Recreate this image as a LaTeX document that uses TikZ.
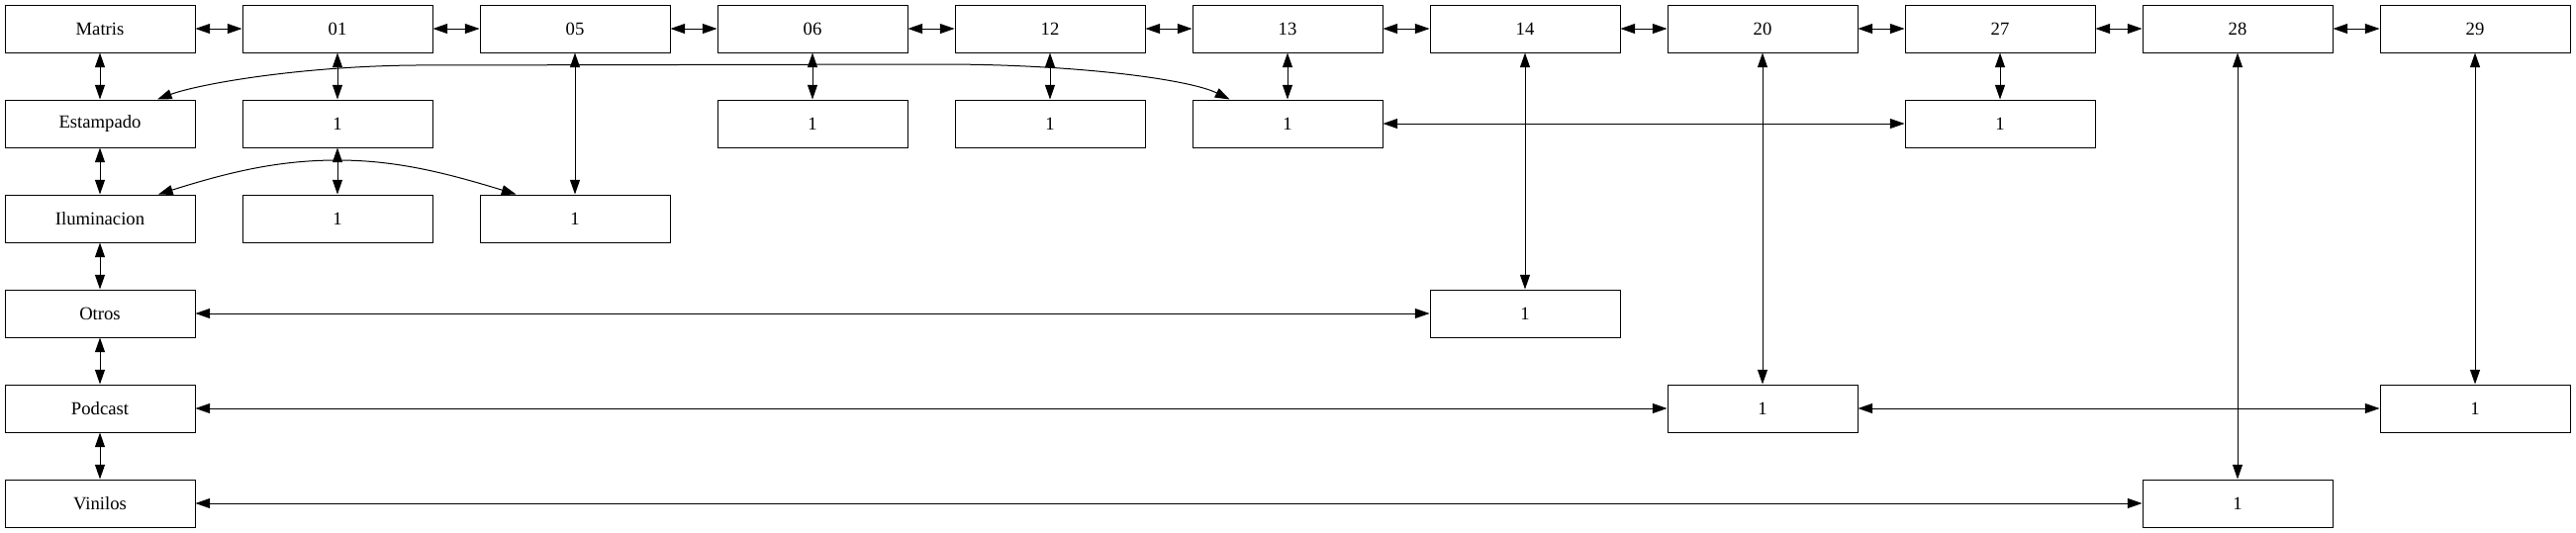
\documentclass[tikz,border=0pt]{standalone}
\usepackage{fontspec}
\setmainfont{Liberation Serif}
\usetikzlibrary{arrows.meta}
\tikzset{
  box/.style={draw, rectangle, line width=0.75pt, minimum width=144pt, minimum height=36pt, inner sep=0pt, font=\fontsize{14pt}{16pt}\selectfont},
  link/.style={line width=0.75pt, {Triangle[length=11pt,width=7.5pt]}-{Triangle[length=11pt,width=7.5pt]}}
}
\begin{document}
\begin{tikzpicture}[x=0.75pt,y=-0.75pt]
\useasboundingbox (0,0) rectangle (2603,539);
% row 0
\node[box] (m)   at (101,29) {Matris};
\node[box] (c01) at (341,29) {01};
\node[box] (c05) at (581,29) {05};
\node[box] (c06) at (821,29) {06};
\node[box] (c12) at (1061,29) {12};
\node[box] (c13) at (1301,29) {13};
\node[box] (c14) at (1541,29) {14};
\node[box] (c20) at (1781,29) {20};
\node[box] (c27) at (2021,29) {27};
\node[box] (c28) at (2261,29) {28};
\node[box] (c29) at (2501,29) {29};
% row 1
\node[box] (est) at (101,125) {Estampado};
\node[box] (a1)  at (341,125) {1};
\node[box] (a3)  at (821,125) {1};
\node[box] (a4)  at (1061,125) {1};
\node[box] (a5)  at (1301,125) {1};
\node[box] (a8)  at (2021,125) {1};
% row 2
\node[box] (ilu) at (101,221) {Iluminacion};
\node[box] (b1)  at (341,221) {1};
\node[box] (b2)  at (581,221) {1};
% row 3
\node[box] (otr) at (101,317) {Otros};
\node[box] (d6)  at (1541,317) {1};
% row 4
\node[box] (pod) at (101,413) {Podcast};
\node[box] (e7)  at (1781,413) {1};
\node[box] (e10) at (2501,413) {1};
% row 5
\node[box] (vin) at (101,509) {Vinilos};
\node[box] (f9)  at (2261,509) {1};
% top row chain
\draw[link] (m) -- (c01);
\draw[link] (c01) -- (c05);
\draw[link] (c05) -- (c06);
\draw[link] (c06) -- (c12);
\draw[link] (c12) -- (c13);
\draw[link] (c13) -- (c14);
\draw[link] (c14) -- (c20);
\draw[link] (c20) -- (c27);
\draw[link] (c27) -- (c28);
\draw[link] (c28) -- (c29);
% left column chain
\draw[link] (m) -- (est);
\draw[link] (est) -- (ilu);
\draw[link] (ilu) -- (otr);
\draw[link] (otr) -- (pod);
\draw[link] (pod) -- (vin);
% verticals
\draw[link] (c01) -- (a1);
\draw[link] (a1) -- (b1);
\draw[link] (c05) -- (b2);
\draw[link] (c06) -- (a3);
\draw[link] (c12) -- (a4);
\draw[link] (c13) -- (a5);
\draw[link] (c27) -- (a8);
\draw[link] (c14) -- (d6);
\draw[link] (c20) -- (e7);
\draw[link] (c28) -- (f9);
\draw[link] (c29) -- (e10);
% horizontals
\draw[link] (a5) -- (a8);
\draw[link] (otr) -- (d6);
\draw[link] (pod) -- (e7);
\draw[link] (e7) -- (e10);
\draw[link] (vin) -- (f9);
% curves
\draw[link] ([xshift=43.5pt]est.north) .. controls +(40,-15) and +(-120,1) .. (420,66) -- (950,65) .. controls +(140,0) and +(-40,-20) .. ([xshift=28.5pt]a5.north west);
\draw[link] ([xshift=44.25pt]ilu.north) .. controls +(70,-22) and +(-61,0) .. (341,162) .. controls +(59,0) and +(-72,-22) .. ([xshift=27.75pt]b2.north west);
\end{tikzpicture}
\end{document}
